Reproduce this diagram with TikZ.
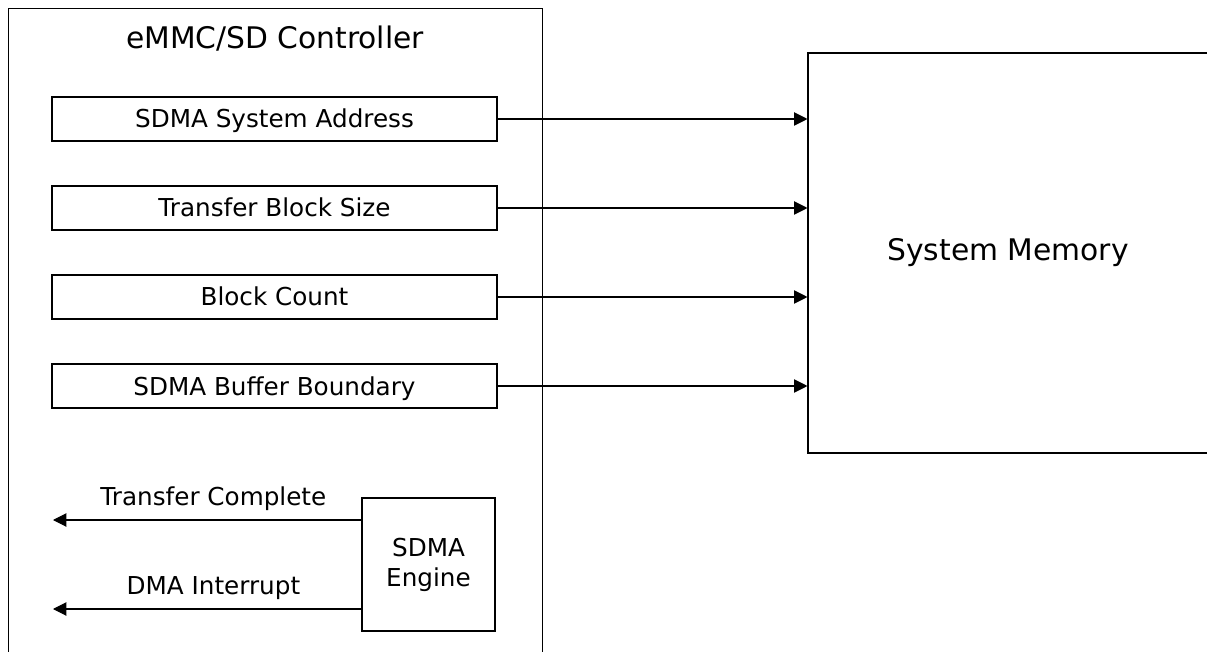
\documentclass[tikz,border=0pt]{standalone}
\usepackage{fontspec}
\setmainfont{DejaVu Sans}
\usetikzlibrary{arrows.meta,positioning,calc}

\begin{document}
\begin{tikzpicture}[x=0.75pt, y=-0.75pt,
    blockbox/.style={draw, line width=0.8pt, inner sep=0pt},
    regbox/.style={blockbox, minimum width=333.75pt, minimum height=33pt,
      text height=13.5pt, text depth=0pt,
      font=\fontsize{18.5}{22}\selectfont},
    bigfont/.style={font=\fontsize{22.3}{26}\selectfont},
    sig/.style={-{Triangle[length=10pt, width=10pt]}, line width=0.8pt}]
\useasboundingbox (0,0) rectangle (1207,652);
\clip (0,0) rectangle (1207,652);

% Controller frame - runs past the bottom edge
\node[blockbox, minimum width=400.5pt, minimum height=525pt, anchor=north west]
      (ctrl) at (8,8) {};
\node[bigfont] (ctrlTitle) at (275,39) {eMMC/SD Controller};

% Register boxes
\node[regbox] (rAddr) at (274.5,119) {SDMA System Address};
\node[regbox] (rSize) at (274.5,208) {Transfer Block Size};
\node[regbox] (rCount) at (274.5,297) {Block Count};
\node[regbox] (rBound) at (274.5,386) {SDMA Buffer Boundary};

% System memory - right side runs off the page
\node[blockbox, bigfont, minimum width=300pt, minimum height=300pt]
      (mem) at (1008,253) {System Memory};

% Register to memory connectors
\draw[sig] (rAddr.east) -- (rAddr.east -| mem.west);
\draw[sig] (rSize.east) -- (rSize.east -| mem.west);
\draw[sig] (rCount.east) -- (rCount.east -| mem.west);
\draw[sig] (rBound.east) -- (rBound.east -| mem.west);

% SDMA engine and its outputs
\node[blockbox, minimum width=99.75pt, minimum height=99.75pt, align=center,
      font=\fontsize{18.5}{22.5}\selectfont]
      (eng) at (428.5,564.5) {SDMA\\Engine};
\coordinate (tcEnd) at (53,520);
\coordinate (diEnd) at (53,609);
\draw[sig] (eng.west |- tcEnd) -- (tcEnd)
      node[pos=0.48, above=3.5pt, font=\fontsize{18.5}{22}\selectfont] (tcLabel) {Transfer Complete};
\draw[sig] (eng.west |- diEnd) -- (diEnd)
      node[pos=0.48, above=3.5pt, font=\fontsize{18.5}{22}\selectfont] (diLabel) {DMA Interrupt};
\end{tikzpicture}
\end{document}
